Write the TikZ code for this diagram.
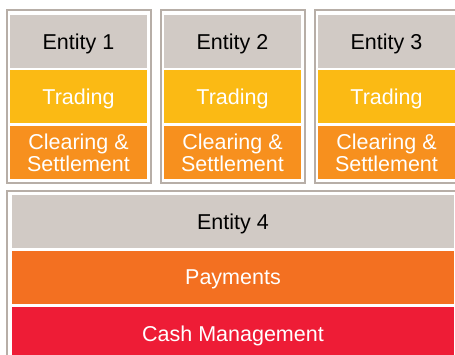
\documentclass[tikz,border=0pt]{standalone}
\usepackage{fontspec}
\setmainfont{Liberation Sans}

\definecolor{entgray}{HTML}{D1CAC5}
\definecolor{tradeyellow}{HTML}{FBBA14}
\definecolor{clearorange}{HTML}{F7901E}
\definecolor{payorange}{HTML}{F37021}
\definecolor{cashred}{HTML}{EE1C36}
\definecolor{framegray}{HTML}{B7AEA7}

\tikzset{
  unit/.style={rectangle, inner sep=0pt, minimum width=137pt, minimum height=53pt,
    align=center, text depth=0pt, font=\fontsize{21.5}{22.5}\selectfont},
  wideunit/.style={unit, minimum width=442pt},
  frame/.style={draw=framegray, line width=1.5pt}
}

\begin{document}
\begin{tikzpicture}[x=1pt, y=-1pt]
    \useasboundingbox (0, 0) rectangle (455, 354);
    \clip (0, 0) rectangle (455, 354);

    % outer frames
    \draw[frame] (7, 10) rectangle (151, 183);
    \draw[frame] (161, 10) rectangle (305, 183);
    \draw[frame] (315, 10) rectangle (459, 183);
    \draw[frame] (7, 191) rectangle (460, 370);

    \path
    (78.5, 41.5) node[unit, fill=entgray, text=black](ent1){Entity 1}
    (78.5, 96.5) node[unit, fill=tradeyellow, text=white](trade1){Trading}
    (78.5, 152.5) node[unit, fill=clearorange, text=white](clear1){Clearing \&\\Settlement}
    (232.5, 41.5) node[unit, fill=entgray, text=black](ent2){Entity 2}
    (232.5, 96.5) node[unit, fill=tradeyellow, text=white](trade2){Trading}
    (232.5, 152.5) node[unit, fill=clearorange, text=white](clear2){Clearing \&\\Settlement}
    (386.5, 41.5) node[unit, fill=entgray, text=black](ent3){Entity 3}
    (386.5, 96.5) node[unit, fill=tradeyellow, text=white](trade3){Trading}
    (386.5, 152.5) node[unit, fill=clearorange, text=white](clear3){Clearing \&\\Settlement}
    (233, 221.5) node[wideunit, fill=entgray, text=black](ent4){Entity 4}
    (233, 277.5) node[wideunit, fill=payorange, text=white](pay){Payments}
    (233, 333.5) node[wideunit, fill=cashred, text=white](cash){Cash Management};

  \end{tikzpicture}
\end{document}
